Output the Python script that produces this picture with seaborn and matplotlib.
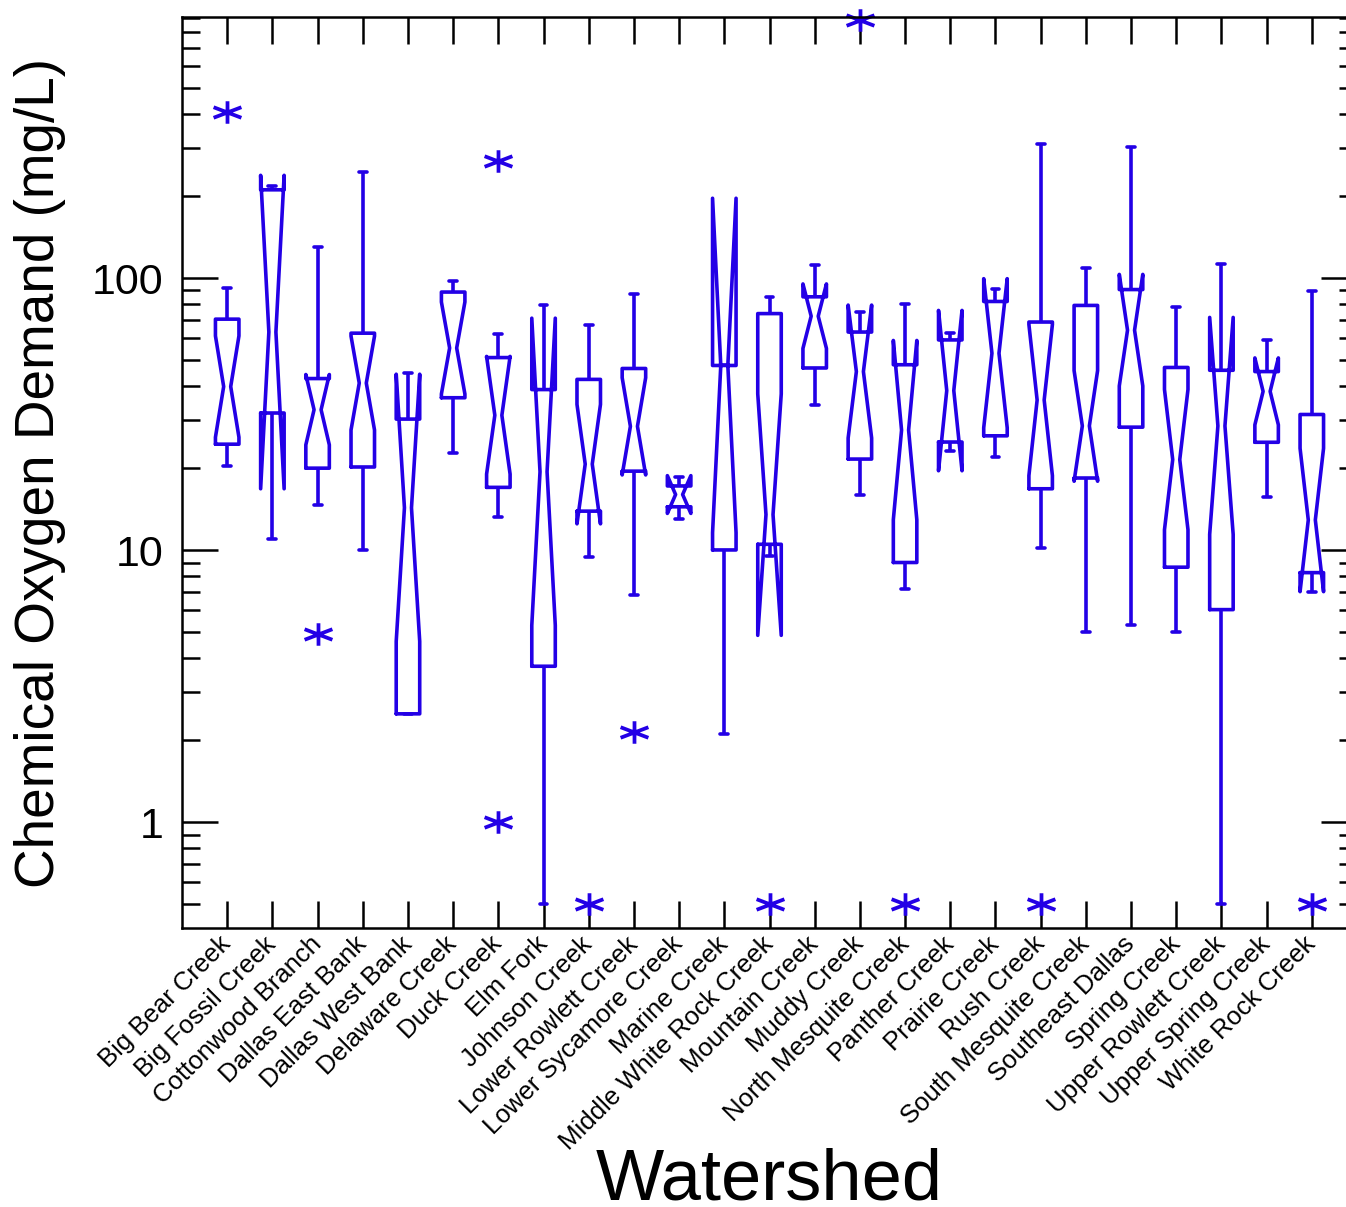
import numpy as np
import pandas as pd
import matplotlib
matplotlib.use("Agg")
import matplotlib.pyplot as plt
from matplotlib.path import Path
from matplotlib.ticker import LogLocator, NullFormatter
import seaborn as sns

# ---------------------------------------------------------------- data
watersheds = [
    "Big Bear Creek", "Big Fossil Creek", "Cottonwood Branch", "Dallas East Bank",
    "Dallas West Bank", "Delaware Creek", "Duck Creek", "Elm Fork", "Johnson Creek",
    "Lower Rowlett Creek", "Lower Sycamore Creek", "Marine Creek",
    "Middle White Rock Creek", "Mountain Creek", "Muddy Creek", "North Mesquite Creek",
    "Panther Creek", "Prairie Creek", "Rush Creek", "South Mesquite Creek",
    "Southeast Dallas", "Spring Creek", "Upper Rowlett Creek", "Upper Spring Creek",
    "White Rock Creek",
]
# summary values (mg/L); None = group with very few samples
whisker_low = [20.3, 11.0, 14.7, 10.0, 2.5, 22.7, 13.2, 0.5, 9.45, 6.84, None, None,
               9.5, 34.1, 15.9, 7.2, None, 21.9, 10.2, 5.0, 5.3, 5.0, 0.5, 15.7, 7.0]
quartile_1 = [24.5, 31.9, 20.0, 20.2, 2.5, 36.3, 17.0, 3.74, 13.9, 19.5, None, None,
              10.5, 46.7, 21.6, 9.0, None, 26.3, 16.8, 18.4, 28.3, 8.65, 6.04, 24.9, 8.26]
medians = [39.9, 63.3, 32.8, 41.1, 14.3, 55.3, 31.3, 19.4, 20.7, 28.5, None, None,
           13.5, 72.4, 45.3, 27.6, None, 52.9, 35.6, 28.6, 64.3, 21.5, 28.6, 38.3, 12.9]
quartile_3 = [70.6, 211.0, 42.7, 62.7, 30.3, 88.8, 51.0, 38.9, 42.4, 46.5, None, None,
              74.0, 85.3, 63.3, 48.0, None, 82.0, 68.9, 79.3, 90.7, 46.9, 45.8, 45.3, 31.5]
whisker_high = [92.0, 218.0, 130.0, 245.0, 44.8, 97.8, 62.3, 79.4, 67.3, 87.1, None, None,
                85.2, 112.0, 75.2, 80.5, None, 91.3, 311.0, 109.0, 303.0, 78.0, 113.0, 59.1, 89.3]
n_obs = [15, 5, 16, 20, 12, 13, 12, 8, 12, 11, 3, 3, 9, 12, 9, 12, 4, 8, 12, 24, 15, 20, 12, 11, 12]
low_outliers = [[], [], [4.9], [], [], [], [1.0], [], [0.5], [2.15], [], [], [0.5], [], [],
                [0.5], [], [], [0.5], [], [], [], [], [], [0.5]]
high_outliers = [[408.0], [], [], [], [], [], [270.0], [], [], [], [], [], [], [], [890.0],
                 [], [], [], [], [], [], [], [], [], []]
# groups with only 3-4 observations: the observations themselves
small_samples = {
    "Lower Sycamore Creek": [13.0, 16.0, 18.5],
    "Marine Creek": [2.1, 47.7, 47.7],
    "Panther Creek": [23.1, 25.6, 58.1, 62.7],
}


def group_sample(i):
    """Observations of one watershed: the read values repeated so that the
    library's own quartiles / notches reproduce the chart."""
    name = watersheds[i]
    if name in small_samples:
        return np.array(small_samples[name], float)
    n = n_obs[i]
    idx = np.arange(n)
    c25 = np.ceil(0.25 * (n - 1))
    c50 = np.ceil(0.50 * (n - 1))
    vals = np.where(idx <= c25, quartile_1[i],
                    np.where(idx <= c50, medians[i], quartile_3[i])).astype(float)
    lo, hi = low_outliers[i], high_outliers[i]
    vals[:len(lo)] = lo
    vals[len(lo)] = whisker_low[i]
    vals[n - len(hi) - 1] = whisker_high[i]
    if hi:
        vals[n - len(hi):] = hi
    return vals


rows = []
for i, name in enumerate(watersheds):
    for v in group_sample(i):
        rows.append((name, v))
df = pd.DataFrame(rows, columns=["Watershed", "COD"])

# ---------------------------------------------------------------- style
BLUE = "#2300E6"
sns.set_style("ticks")
plt.rcParams["font.family"] = ["Liberation Sans", "DejaVu Sans"]
plt.rcParams["text.color"] = "black"
plt.rcParams["axes.labelcolor"] = "black"
plt.rcParams["xtick.color"] = "black"
plt.rcParams["ytick.color"] = "black"

fig = plt.figure(figsize=(13.46, 12.07), dpi=100)
W, H = 1346.0, 1207.0
ax = fig.add_axes([182 / W, 1 - 928 / H, (1357 - 182) / W, (928 - 17) / H])

star = Path([(0, -0.81), (0, 0.81), (-1, -0.38), (1, 0.38), (-1, 0.38), (1, -0.38)],
            [Path.MOVETO, Path.LINETO, Path.MOVETO, Path.LINETO, Path.MOVETO, Path.LINETO])

LW = 2.6
sns.boxplot(
    data=df, x="Watershed", y="COD", order=watersheds, ax=ax,
    log_scale=True, notch=True, fill=False, width=0.52, whis=1.5,
    color=BLUE, linewidth=LW,
    boxprops={"gid": "box", "color": BLUE, "linewidth": LW},
    whiskerprops={"color": BLUE, "linewidth": LW},
    capprops={"gid": "cap", "color": BLUE, "linewidth": LW},
    medianprops={"visible": False},
    flierprops={"marker": star, "markersize": 20, "markeredgewidth": 2.7,
                "markeredgecolor": BLUE, "markerfacecolor": "none",
                "clip_on": False},
)

# reference style: narrow notch waist and short caps
CAPW = 0.175
for line in ax.lines:
    gid = line.get_gid()
    if gid == "box":
        xs = np.asarray(line.get_xdata(), float)
        c = (xs.min() + xs.max()) / 2
        h = (xs.max() - xs.min()) / 2
        inner = np.abs(xs - c) < 0.9 * h
        xs[inner] = c + np.sign(xs[inner] - c) * 0.3 * h
        line.set_xdata(xs)
    elif gid == "cap":
        xs = np.asarray(line.get_xdata(), float)
        c = xs.mean()
        line.set_xdata([c - CAPW / 2, c + CAPW / 2])

ax.set_xlim(-1, 25)
ax.set_ylim(0.408, 911)

ax.set_yticks([1, 10, 100], labels=["1", "10", "100"])
ax.yaxis.set_minor_locator(LogLocator(base=10, subs=np.arange(2, 10)))
ax.yaxis.set_minor_formatter(NullFormatter())

for s in ax.spines.values():
    s.set_visible(True)
    s.set_linewidth(1.8)
    s.set_color("black")

ax.tick_params(axis="x", which="major", direction="in", top=True, bottom=True,
               length=19.5, width=1.8, color="black", pad=9)
ax.tick_params(axis="y", which="major", direction="in", left=True, right=True,
               length=26, width=1.8, color="black", pad=13.5, labelsize=31)
ax.tick_params(axis="y", which="minor", direction="in", left=True, right=True,
               length=13, width=1.8, color="black")

for lab in ax.get_xticklabels():
    lab.set_rotation(45)
    lab.set_ha("right")
    lab.set_va("center")
    lab.set_rotation_mode("anchor")
    lab.set_fontsize(18.5)

ax.set_xlabel("Watershed", fontsize=52, va="baseline")
ax.xaxis.set_label_coords(0.5, (928 - 1199) / 911)
ax.set_ylabel("Chemical Oxygen Demand (mg/L)", fontsize=39.5, va="center")
ax.yaxis.set_label_coords((40 - 182) / 1175, 0.5)

fig.savefig("out.png", dpi=100)
